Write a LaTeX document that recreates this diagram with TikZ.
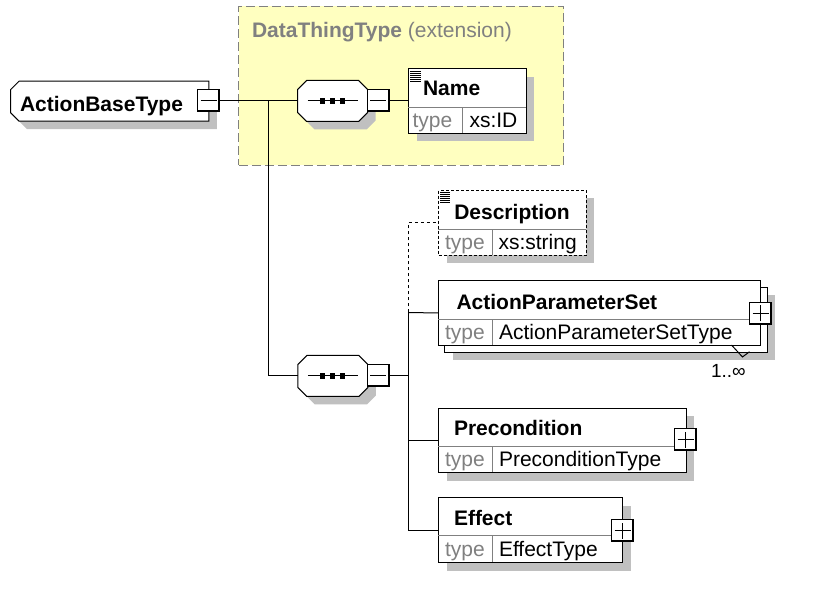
\documentclass[tikz,border=0pt]{standalone}
\usepackage{fontspec}
\setmainfont{Liberation Sans}
\usetikzlibrary{shadows}
\definecolor{extyellow}{RGB}{255,255,192}
\definecolor{shadowgray}{RGB}{192,192,192}
\definecolor{typegray}{RGB}{128,128,128}

\begin{document}
\begin{tikzpicture}[x=1pt,y=-1pt,line width=1pt]
	\tikzstyle{elemshadow}=[drop shadow={shadow xshift=8pt,shadow yshift=-8pt,fill=shadowgray,opacity=1}]
	\tikzstyle{dropped}=[fill=shadowgray,transform canvas={xshift=8pt,yshift=-8pt}]
	\tikzstyle{elem}=[rectangle,draw=black,fill=white,inner sep=0pt,anchor=north west]
	\tikzstyle{seq}=[rectangle,inner sep=0pt,minimum width=69,minimum height=40]
	\tikzstyle{minusbox}=[rectangle,draw=black,fill=white,inner sep=0pt,minimum size=22,path picture={
		\draw[line width=3pt] (path picture bounding box.north east) -- (path picture bounding box.south east) -- (path picture bounding box.south west);
		\draw ([xshift=3pt]path picture bounding box.west) -- ([xshift=-3pt]path picture bounding box.east);}]
	\tikzstyle{plusbox}=[rectangle,draw=black,fill=white,inner sep=0pt,minimum size=22,path picture={
		\draw[line width=3pt] (path picture bounding box.north east) -- (path picture bounding box.south east) -- (path picture bounding box.south west);
		\draw ([xshift=3pt]path picture bounding box.west) -- ([xshift=-3pt]path picture bounding box.east);
		\draw ([yshift=3pt]path picture bounding box.south) -- ([yshift=-3pt]path picture bounding box.north);}]
	\tikzstyle{titletext}=[font=\fontsize{21}{25}\selectfont\bfseries,inner sep=0pt,anchor=base west]
	\tikzstyle{typetext}=[font=\fontsize{21}{25}\selectfont,inner sep=0pt,anchor=base west,text=typegray]
	\tikzstyle{valtext}=[font=\fontsize{21}{25}\selectfont,inner sep=0pt,anchor=base west]
	\tikzstyle{divider}=[draw=typegray]
	\fill[white] (0,0) rectangle (815,601);
	\useasboundingbox (0,0) rectangle (815,601);

	% extension of DataThingType
	\node[rectangle,draw=typegray,dash pattern=on 9pt off 4pt,fill=extyellow,inner sep=0pt,minimum width=324.7,minimum height=159.3,anchor=north west] (ext) at (238.3,5.7) {};
	\node[anchor=base west,inner sep=0pt,text=typegray,font=\fontsize{21}{24}\selectfont] (extT) at (251.5,37.3) {\textbf{DataThingType} (extension)};

	% root type
	\node[rectangle,inner sep=0pt,minimum width=197.3,minimum height=39] (abt) at (109.7,101.2) {};
	\fill[dropped] ([xshift=8.5]abt.north west) -- (abt.north east) -- (abt.south east) -- ([xshift=8.5]abt.south west) -- ([yshift=8.5]abt.south west) -- ([yshift=-8.5]abt.north west) -- cycle;
	\draw[fill=white] ([xshift=8.5]abt.north west) -- (abt.north east) -- (abt.south east) -- ([xshift=8.5]abt.south west) -- ([yshift=8.5]abt.south west) -- ([yshift=-8.5]abt.north west) -- cycle;
	\node[titletext] (abtT) at (19.5,111.5) {ActionBaseType};
	\node[minusbox] (m0) at (208.7,101) {};

	% sequences
	\node[seq] (s1) at (332.7,101) {};
	\node[seq] (s2) at (332.8,376) {};
	\foreach \s in {s1,s2} {
		\fill[dropped] ([xshift=9]\s.north west) -- ([xshift=-9]\s.north east) -- ([yshift=-9]\s.north east) -- ([yshift=9]\s.south east) -- ([xshift=-9]\s.south east) -- ([xshift=9]\s.south west) -- ([yshift=9]\s.south west) -- ([yshift=-9]\s.north west) -- cycle;
		\draw[fill=white] ([xshift=9]\s.north west) -- ([xshift=-9]\s.north east) -- ([yshift=-9]\s.north east) -- ([yshift=9]\s.south east) -- ([xshift=-9]\s.south east) -- ([xshift=9]\s.south west) -- ([yshift=9]\s.south west) -- ([yshift=-9]\s.north west) -- cycle;
		\draw ([xshift=-25]\s.center) -- ([xshift=25]\s.center);
		\foreach \d in {-10,0,10} \fill ([xshift=\d]\s.center) +(-2.6,-2.6) rectangle +(2.6,2.6);
	}
	\node[minusbox] (m1) at (378,101) {};
	\node[minusbox] (m2) at (378.3,376) {};

	% Name
	\node[elem,minimum width=117.7,minimum height=64.4,elemshadow] (name) at (408,68.3) {};
	\draw[divider] (408,107.3) -- (525.7,107.3);
	\draw[divider] (462.7,107.3) -- (462.7,132.7);
	\foreach \k in {0,...,5} \draw[line width=0.9pt] (410,71.5+1.9*\k) -- (420.5,71.5+1.9*\k);
	\node[titletext] (nameT) at (422.5,96) {Name};
	\node[typetext] (nameK) at (412,127.3) {type};
	\node[valtext] (nameV) at (469,127.3) {xs:ID};

	% Description
	\node[elem,dash pattern=on 3pt off 2pt,minimum width=147.4,minimum height=65,elemshadow] (desc) at (438.3,190) {};
	\draw[divider] (438.3,229.3) -- (585.7,229.3);
	\draw[divider] (492.7,229.3) -- (492.7,255);
	\foreach \k in {0,...,5} \draw[line width=0.9pt] (439.8,192.5+1.9*\k) -- (450.3,192.5+1.9*\k);
	\node[titletext] (descT) at (453.8,219.3) {Description};
	\node[typetext] (descK) at (444.5,249.5) {type};
	\node[valtext] (descV) at (498,249.5) {xs:string};

	% ActionParameterSet
	\node[elem,minimum width=322.7,minimum height=65,elemshadow] (apsback) at (444,286.7) {};
	\node[elem,minimum width=321.7,minimum height=65] (aps) at (438.3,280) {};
	\draw[divider] (438.3,319.3) -- (760,319.3);
	\draw[divider] (492.7,319.3) -- (492.7,345);
	\draw (731.5,345) -- (742.5,357) -- (749.5,351.7);
	\node[plusbox] (p1) at (760.5,313.3) {};
	\node[titletext] (apsT) at (456,309.3) {ActionParameterSet};
	\node[typetext] (apsK) at (444.5,339.3) {type};
	\node[valtext] (apsV) at (498.5,339.3) {ActionParameterSetType};
	\node[anchor=base west,inner sep=0pt,font=\fontsize{19}{22}\selectfont] (apsM) at (710.5,377.3) {1..∞};

	% Precondition
	\node[elem,minimum width=247.4,minimum height=64.6,elemshadow] (pre) at (438.3,407.7) {};
	\draw[divider] (438.3,446.7) -- (685.7,446.7);
	\draw[divider] (492.3,446.7) -- (492.3,472.3);
	\node[plusbox] (p2) at (685.5,440) {};
	\node[titletext] (preT) at (453.5,436) {Precondition};
	\node[typetext] (preK) at (444.5,466.8) {type};
	\node[valtext] (preV) at (498.5,466.8) {PreconditionType};

	% Effect
	\node[elem,minimum width=184,minimum height=65,elemshadow] (eff) at (438.3,497.3) {};
	\draw[divider] (438.3,536) -- (622.3,536);
	\draw[divider] (492.3,536) -- (492.3,562.3);
	\node[plusbox] (p3) at (622.5,530.7) {};
	\node[titletext] (effT) at (453.5,526) {Effect};
	\node[typetext] (effK) at (444.5,556.5) {type};
	\node[valtext] (effV) at (498.5,556.5) {EffectType};

	% connectors
	\coordinate (j1) at (268.5,101);
	\coordinate (j2) at (408.3,376);
	\coordinate (j3) at (408.3,312.5);
	\draw (m0.east) -- (s1.west);
	\draw (j1) |- (s2.west);
	\draw (m1.east) -- (m1.east -| name.west);
	\draw (m2.east) -- (j2);
	\draw[dash pattern=on 3pt off 3pt] (j3) |- (desc.west);
	\draw (j3) -- (aps.west);
	\draw (j3) |- (pre.west);
	\draw (j3) |- (eff.west);
\end{tikzpicture}
\end{document}
